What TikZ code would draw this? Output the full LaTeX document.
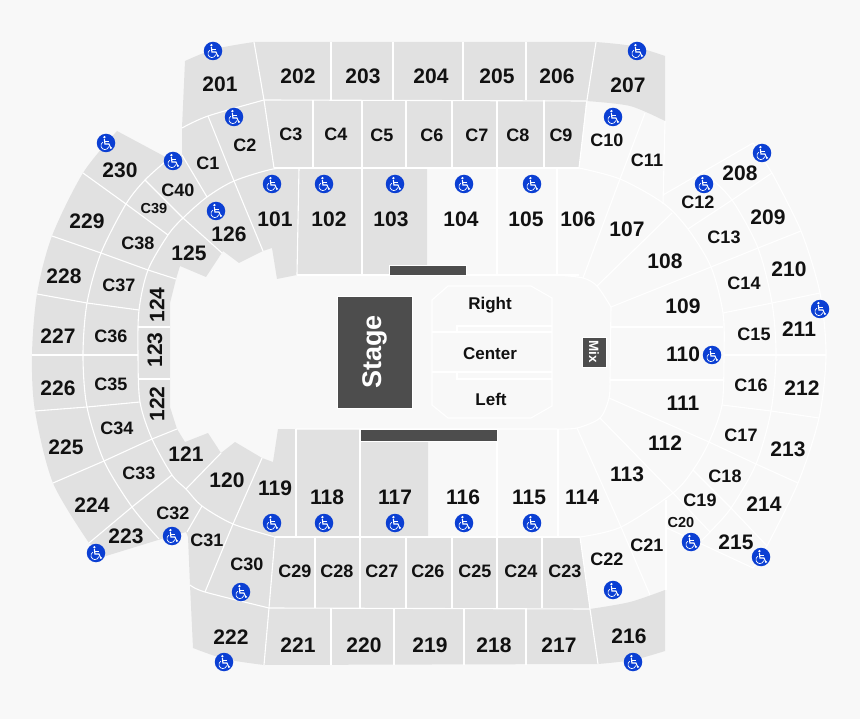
\documentclass[tikz,border=0pt]{standalone}
\usepackage{fontspec}
\setmainfont{Liberation Sans}
\definecolor{floorbg}{HTML}{F8F8F8}
\definecolor{seatgrey}{HTML}{E1E1E1}
\definecolor{blockdark}{HTML}{4D4D4D}
\definecolor{accessblue}{HTML}{0B3FD3}
\definecolor{labelink}{HTML}{111111}
\newcommand{\wheelicon}{
  \begin{scope}[shift={(path picture bounding box.center)},white]
    \fill (-1.6,-5.8) circle (1.3pt);
    \draw[line width=1.1pt] (-1.6,-3.8) -- (-1.1,1) -- (3,1) -- (4.8,5.2) -- (6,4.7);
    \draw[line width=.9pt] (-1.4,-1.6) -- (2.6,-1.6);
    \draw[line width=.7pt] (-3.2,-.8) .. controls (-6.6,1.2) and (-5,6.6) .. (-1.2,6.6) .. controls (.8,6.6) and (2.2,5.4) .. (2.8,3.6);
  \end{scope}
}
\begin{document}
\begin{tikzpicture}[x=1pt,y=-1pt,
      seam/.style={white,line width=1.1pt},
      sec/.style={font=\bfseries\fontsize{21}{21}\selectfont,text=labelink,inner sep=0pt},
      csec/.style={font=\bfseries\fontsize{18}{18}\selectfont,text=labelink,inner sep=0pt},
      csmall/.style={font=\bfseries\fontsize{14.5}{15}\selectfont,text=labelink,inner sep=0pt},
      floorlab/.style={font=\bfseries\fontsize{17}{17}\selectfont,text=labelink,inner sep=0pt},
      access/.style={circle,fill=accessblue,minimum size=18.5pt,inner sep=0pt,path picture={\wheelicon}},
      block/.style={fill=blockdark,draw=white,line width=.5pt}]
      \path[use as bounding box,fill=floorbg] (0,0) rectangle (860,719);

      % grey seating
      \fill[seatgrey] plot[smooth] coordinates {(185,61) (215,49) (254,42)} -- (596,42)
        -- plot[smooth] coordinates {(596,42) (632,46) (665,56)} -- (665,121)
        -- plot[smooth] coordinates {(665,121) (630,106) (586,101)} -- (579,168) -- (427,168)
        -- (427,275) -- (297,275) -- (277,279) -- (272,248) -- (263,251) -- (239,263) -- (223,251)
        -- (206,277) -- (180,266) -- (176,279) -- (170,303) -- (170,407) -- (177,429) -- (185,442)
        -- (208,433) -- (221,453) -- (235,442) -- (262,458) -- (273,462) -- (278,429) -- (360,429)
        -- (360,441) -- (428,441) -- (428,537) -- (580,537) -- (590,609)
        -- plot[smooth] coordinates {(590,609) (630,602) (665,590)} -- (665,651)
        -- plot[smooth] coordinates {(665,651) (633,660) (598,664)} -- (264,665)
        -- plot[smooth] coordinates {(264,665) (225,659) (193,648)} -- (190,585) -- (188,537)
        -- (186,532) -- (158,540) -- (106,556)
        -- plot[smooth] coordinates {(89,543) (53,483) (35,411) (32,355) (37,294) (52,236) (83,173) (117,131)}
        -- (173,161) -- (182,155) -- (182,128) -- (185,61) -- cycle;

      % rings
      \draw[seam] plot[smooth] coordinates {(182,128) (208,116) (264,100)} -- (586,101);
      \draw[seam] (274,168) -- (579,168);
      \draw[seam] (275,537) -- (580,537);
      \draw[seam] plot[smooth] coordinates {(190,585) (205,592) (269,608)} -- (590,609);
      \draw[seam] plot[smooth] coordinates {(579,168) (620,179) (663,203) (688,229) (711,267) (723,313) (724,355) (722,405) (709,442) (693,470) (673,493) (621,527) (580,537)};
      \draw[seam] plot[smooth] coordinates {(300,168) (273,169) (234,181) (207,197) (183,218) (168,235) (148,270) (139,310) (138,355) (140,402) (152,439) (172,475) (186,489) (202,506) (233,524) (275,537)};
      \draw[seam] plot[smooth] coordinates {(165,162) (145,180) (126,204) (101,253) (87,303) (83,355) (87,407) (104,461) (132,507) (159,539)};
      \draw[seam] plot[smooth] coordinates {(707,175) (732,200) (758,248) (772,303) (776,355) (771,411) (756,464) (731,508) (710,532) (702,540)};
      \draw[seam] plot[smooth] coordinates {(772,173) (801,231) (820,293) (826,355) (819,418) (798,483) (767,546)};
      \draw[seam] (753,143) -- (772,173);
      \draw[seam] (663,195) -- (753,143);
      \draw[seam] (667,528) -- (753,568) -- (767,546);
      \draw[seam] (665,121) -- (663,204);
      \draw[seam] (666,500) -- (666,590);
      \draw[seam] (579,275) -- (297,275);
      \draw[seam] plot[smooth] coordinates {(557,275) (583,278) (597,286) (611,307)} -- (610,380);
      \draw[seam] plot[smooth] coordinates {(610,380) (609,398) (600,418) (577,428) (555,429)} -- (296,429);

      % top rows
      \draw[seam] (254,42) -- (264,100) -- (274,168);
      \draw[seam] (331,42) -- (331,100);
      \draw[seam] (393,42) -- (393,100);
      \draw[seam] (463,42) -- (463,100);
      \draw[seam] (526,42) -- (526,100);
      \draw[seam] (596,42) -- (587,100) -- (579,168);
      \draw[seam] (313,100) -- (313,168);
      \draw[seam] (362,100) -- (362,275);
      \draw[seam] (406,100) -- (406,168);
      \draw[seam] (452,100) -- (452,168);
      \draw[seam] (497,100) -- (497,275);
      \draw[seam] (544,100) -- (544,168);
      \draw[seam] (557,168) -- (557,275);
      \draw[seam] (299,168) -- (297,275);
      \draw[seam] (645,113) -- (620,179) -- (583,278);
      \draw[seam] (672,213) -- (597,286);
      \draw[seam] (208,116) -- (234,181) -- (263,251);

      % right radials
      \draw[seam] (611,307) -- (711,267) -- (758,248) -- (801,231);
      \draw[seam] (688,229) -- (732,200) -- (772,173);
      \draw[seam] (610,327) -- (723,327);
      \draw[seam] (610,380) -- (723,380);
      \draw[seam] (723,313) -- (772,303) -- (820,293);
      \draw[seam] (724,355) -- (826,355);
      \draw[seam] (722,405) -- (771,411) -- (819,418);
      \draw[seam] (609,398) -- (709,442) -- (756,464) -- (798,483);
      \draw[seam] (600,418) -- (673,493) -- (710,532);
      \draw[seam] (693,470) -- (731,508) -- (767,546);
      \draw[seam] (577,428) -- (621,527) -- (650,595);

      % left radials
      \draw[seam] (83,173) -- (126,204) -- (168,235);
      \draw[seam] (145,180) -- (183,218) -- (222,253);
      \draw[seam] (182,155) -- (207,197);
      \draw[seam] (52,236) -- (101,253) -- (148,270) -- (176,279);
      \draw[seam] (37,294) -- (87,303) -- (139,310);
      \draw[seam] (32,355) -- (138,355);
      \draw[seam] (138,327) -- (170,327);
      \draw[seam] (138,379) -- (170,379);
      \draw[seam] (35,411) -- (87,407) -- (140,402);
      \draw[seam] (53,483) -- (104,461) -- (152,439) -- (177,429);
      \draw[seam] (89,543) -- (132,507) -- (172,475);
      \draw[seam] (221,453) -- (186,489);
      \draw[seam] (202,506) -- (187,532);
      \draw[seam] (262,458) -- (233,524) -- (205,592);

      % bottom rows
      \draw[seam] (296,429) -- (296,537);
      \draw[seam] (360,429) -- (360,608);
      \draw[seam] (497,429) -- (497,537);
      \draw[seam] (558,429) -- (558,537);
      \draw[seam] (275,537) -- (269,608) -- (264,665);
      \draw[seam] (315,537) -- (315,608);
      \draw[seam] (406,537) -- (406,608);
      \draw[seam] (452,537) -- (452,608);
      \draw[seam] (497,537) -- (497,608);
      \draw[seam] (542,537) -- (542,608);
      \draw[seam] (580,537) -- (590,609) -- (598,664);
      \draw[seam] (331,608) -- (331,665);
      \draw[seam] (394,608) -- (394,665);
      \draw[seam] (464,608) -- (464,665);
      \draw[seam] (526,608) -- (526,665);

      % floor
      \draw[seam] (432,300) -- (448,286) -- (531,286) -- (552,298) -- (552,406) -- (531,418) -- (448,418) -- (432,405) -- cycle;
      \draw[seam] (432,332) -- (552,332);
      \draw[seam] (432,372) -- (552,372);
      \draw[seam] (457,332) -- (457,326) -- (552,326);
      \draw[seam] (457,372) -- (457,379) -- (552,379);

      \fill[block] (389,265) rectangle (466,275);
      \fill[block] (360,429) rectangle (497,441);
      \node[block,minimum width=75pt,minimum height=112pt,inner sep=0pt,
        text=white,font=\bfseries\fontsize{27}{27}\selectfont] (stage) at (374.5,352) {\rotatebox{90}{Stage}};
      \node[block,minimum width=24pt,minimum height=30pt,inner sep=0pt,
        text=white,font=\bfseries\fontsize{13.5}{14}\selectfont] (mix) at (594,352) {\rotatebox{-90}{Mix}};
      \node[floorlab] (right) at (490,305.5) {Right};
      \node[floorlab] (center) at (490,354) {Center};
      \node[floorlab] (left) at (491,399) {Left};

      % upper tier
      \node[sec] (s201) at (220,84) {201};
      \node[sec] (s202) at (298,76) {202};
      \node[sec] (s203) at (363,76) {203};
      \node[sec] (s204) at (431,76) {204};
      \node[sec] (s205) at (497,76) {205};
      \node[sec] (s206) at (557,76) {206};
      \node[sec] (s207) at (628,85) {207};
      \node[sec] (s208) at (740,173) {208};
      \node[sec] (s209) at (768,217) {209};
      \node[sec] (s210) at (789,269) {210};
      \node[sec] (s211) at (799,329) {211};
      \node[sec] (s212) at (802,388) {212};
      \node[sec] (s213) at (788,449) {213};
      \node[sec] (s214) at (764,504) {214};
      \node[sec] (s215) at (736,542) {215};
      \node[sec] (s216) at (629,636) {216};
      \node[sec] (s217) at (559,645) {217};
      \node[sec] (s218) at (494,645) {218};
      \node[sec] (s219) at (430,645) {219};
      \node[sec] (s220) at (364,645) {220};
      \node[sec] (s221) at (298,645) {221};
      \node[sec] (s222) at (231,637) {222};
      \node[sec] (s223) at (126,536) {223};
      \node[sec] (s224) at (92,505) {224};
      \node[sec] (s225) at (66,447) {225};
      \node[sec] (s226) at (58,388) {226};
      \node[sec] (s227) at (58,336) {227};
      \node[sec] (s228) at (64,276) {228};
      \node[sec] (s229) at (87,221) {229};
      \node[sec] (s230) at (120,170) {230};

      % club tier
      \node[csec] (c1) at (208,163) {C1};
      \node[csec] (c2) at (245,145) {C2};
      \node[csec] (c3) at (291,134) {C3};
      \node[csec] (c4) at (336,134) {C4};
      \node[csec] (c5) at (382,135) {C5};
      \node[csec] (c6) at (432,135) {C6};
      \node[csec] (c7) at (477,135) {C7};
      \node[csec] (c8) at (518,135) {C8};
      \node[csec] (c9) at (561,135) {C9};
      \node[csec] (c10) at (607,140) {C10};
      \node[csec] (c11) at (647,160) {C11};
      \node[csec] (c12) at (698,202) {C12};
      \node[csec] (c13) at (724,237) {C13};
      \node[csec] (c14) at (744,283) {C14};
      \node[csec] (c15) at (754,334) {C15};
      \node[csec] (c16) at (751,385) {C16};
      \node[csec] (c17) at (741,435) {C17};
      \node[csec] (c18) at (725,476) {C18};
      \node[csec] (c19) at (700,500) {C19};
      \node[csmall] (c20) at (681,523) {C20};
      \node[csec] (c21) at (647,545) {C21};
      \node[csec] (c22) at (607,559) {C22};
      \node[csec] (c23) at (565,571) {C23};
      \node[csec] (c24) at (521,571) {C24};
      \node[csec] (c25) at (475,571) {C25};
      \node[csec] (c26) at (428,571) {C26};
      \node[csec] (c27) at (382,571) {C27};
      \node[csec] (c28) at (337,571) {C28};
      \node[csec] (c29) at (295,571) {C29};
      \node[csec] (c30) at (247,564) {C30};
      \node[csec] (c31) at (207,540) {C31};
      \node[csec] (c32) at (173,513) {C32};
      \node[csec] (c33) at (139,473) {C33};
      \node[csec] (c34) at (117,428) {C34};
      \node[csec] (c35) at (111,384) {C35};
      \node[csec] (c36) at (111,336) {C36};
      \node[csec] (c37) at (119,285) {C37};
      \node[csec] (c38) at (138,243) {C38};
      \node[csmall] (c39) at (154,209) {C39};
      \node[csec] (c40) at (178,190) {C40};

      % lower tier
      \node[sec] (s101) at (275,219) {101};
      \node[sec] (s102) at (329,219) {102};
      \node[sec] (s103) at (391,219) {103};
      \node[sec] (s104) at (461,219) {104};
      \node[sec] (s105) at (526,219) {105};
      \node[sec] (s106) at (578,219) {106};
      \node[sec] (s107) at (627,229) {107};
      \node[sec] (s108) at (665,261) {108};
      \node[sec] (s109) at (683,306) {109};
      \node[sec] (s110) at (683,354) {110};
      \node[sec] (s111) at (683,403) {111};
      \node[sec] (s112) at (665,443) {112};
      \node[sec] (s113) at (627,474) {113};
      \node[sec] (s114) at (582,497) {114};
      \node[sec] (s115) at (529,497) {115};
      \node[sec] (s116) at (463,497) {116};
      \node[sec] (s117) at (395,497) {117};
      \node[sec] (s118) at (327,497) {118};
      \node[sec] (s119) at (275,488) {119};
      \node[sec] (s120) at (227,480) {120};
      \node[sec] (s121) at (186,454) {121};
      \node[sec,rotate=90] (s122) at (157,404) {122};
      \node[sec,rotate=90] (s123) at (155,350) {123};
      \node[sec,rotate=90] (s124) at (157,305) {124};
      \node[sec] (s125) at (189,253) {125};
      \node[sec] (s126) at (229,234) {126};

      % wheelchair spaces
      \node[access] (w1) at (213,51) {};
      \node[access] (w2) at (637,51) {};
      \node[access] (w3) at (234,117) {};
      \node[access] (w4) at (613,117) {};
      \node[access] (w5) at (106,143) {};
      \node[access] (w6) at (173,161) {};
      \node[access] (w7) at (272,184) {};
      \node[access] (w8) at (324,184) {};
      \node[access] (w9) at (395,184) {};
      \node[access] (w10) at (464,184) {};
      \node[access] (w11) at (532,184) {};
      \node[access] (w12) at (216,211) {};
      \node[access] (w13) at (704,184) {};
      \node[access] (w14) at (762,153) {};
      \node[access] (w15) at (820,309) {};
      \node[access] (w16) at (712,355) {};
      \node[access] (w17) at (691,542) {};
      \node[access] (w18) at (761,557) {};
      \node[access] (w19) at (613,590) {};
      \node[access] (w20) at (633,662) {};
      \node[access] (w21) at (224,662) {};
      \node[access] (w22) at (241,592) {};
      \node[access] (w23) at (172,536) {};
      \node[access] (w24) at (96,553) {};
      \node[access] (w25) at (272,523) {};
      \node[access] (w26) at (324,523) {};
      \node[access] (w27) at (395,523) {};
      \node[access] (w28) at (464,523) {};
      \node[access] (w29) at (532,523) {};
\end{tikzpicture}
\end{document}
